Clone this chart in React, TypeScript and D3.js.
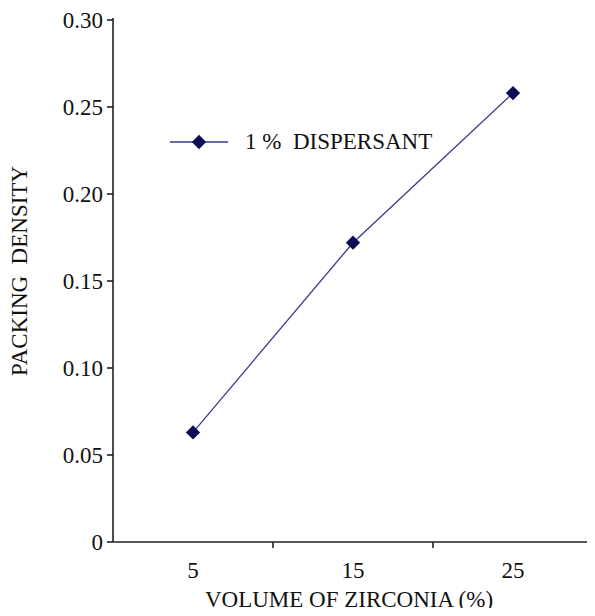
import React from "react";
import * as d3 from "d3";

const categories = ["5", "15", "25"];
const packingDensity = [0.063, 0.172, 0.258];
const yTicks = [0, 0.05, 0.1, 0.15, 0.2, 0.25, 0.3];
const yTickLabels = ["0", "0.05", "0.10", "0.15", "0.20", "0.25", "0.30"];
const seriesName = "1 %  DISPERSANT";

const W = 595;
const H = 616;
const left = 113;
const right = 593;
const top = 20;
const bottom = 542;
const FONT = "Liberation Serif, DejaVu Serif, serif";
const FS = 23;
const LINE = "#3b3b8c";
const MARK = "#0c0c55";

export default function App() {
  const x = d3.scaleBand<string>().domain(categories).range([left, right]).padding(0);
  const y = d3.scaleLinear().domain([0, 0.3]).range([bottom, top]);
  const cx = (c: string) => (x(c) as number) + x.bandwidth() / 2;

  const pts = categories.map((c, i) => [cx(c), y(packingDensity[i])] as [number, number]);
  const linePath = d3.line()(pts) as string;
  const diamond = d3.symbol().type(d3.symbolDiamond2).size(130)() as string;

  const boundaries = categories.map((c) => (x(c) as number) + x.bandwidth());

  return (
    <svg width={W} height={H} style={{ display: "block", margin: "-8px", fontFamily: FONT }}>
      <rect width={W} height={H} fill="#fff" />
      {/* axes */}
      <line x1={left} y1={top - 2} x2={left} y2={bottom} stroke="#222" strokeWidth={1.6} />
      <line x1={left} y1={bottom} x2={right} y2={bottom} stroke="#222" strokeWidth={1.6} />
      {yTicks.map((t, i) => (
        <g key={t}>
          <line x1={left - 6} x2={left} y1={y(t)} y2={y(t)} stroke="#222" strokeWidth={1.6} />
          <text x={left - 10} y={y(t)} dy="0.35em" textAnchor="end" fontSize={FS} fill="#111">
            {yTickLabels[i]}
          </text>
        </g>
      ))}
      {boundaries.map((b) => (
        <line key={b} x1={b} x2={b} y1={bottom} y2={bottom + 6} stroke="#222" strokeWidth={1.6} />
      ))}
      {categories.map((c) => (
        <text key={c} x={cx(c)} y={578} textAnchor="middle" fontSize={FS} fill="#111">
          {c}
        </text>
      ))}
      <text x={349} y={607} textAnchor="middle" fontSize={FS} fill="#111">
        VOLUME OF ZIRCONIA (%)
      </text>
      <text
        transform={`translate(27, 271) rotate(-90)`}
        textAnchor="middle"
        fontSize={FS}
        fill="#111"
        style={{ whiteSpace: "pre" }}
      >
        PACKING  DENSITY
      </text>
      {/* series */}
      <path d={linePath} fill="none" stroke={LINE} strokeWidth={1.3} />
      {pts.map(([px, py], i) => (
        <path key={i} d={diamond} transform={`translate(${px},${py})`} fill={MARK} />
      ))}
      {/* legend */}
      <line x1={170} x2={228} y1={142} y2={142} stroke={LINE} strokeWidth={1.3} />
      <path d={diamond} transform="translate(199,142)" fill={MARK} />
      <text x={245} y={149} fontSize={FS} fill="#111" style={{ whiteSpace: "pre" }}>
        {seriesName}
      </text>
    </svg>
  );
}
